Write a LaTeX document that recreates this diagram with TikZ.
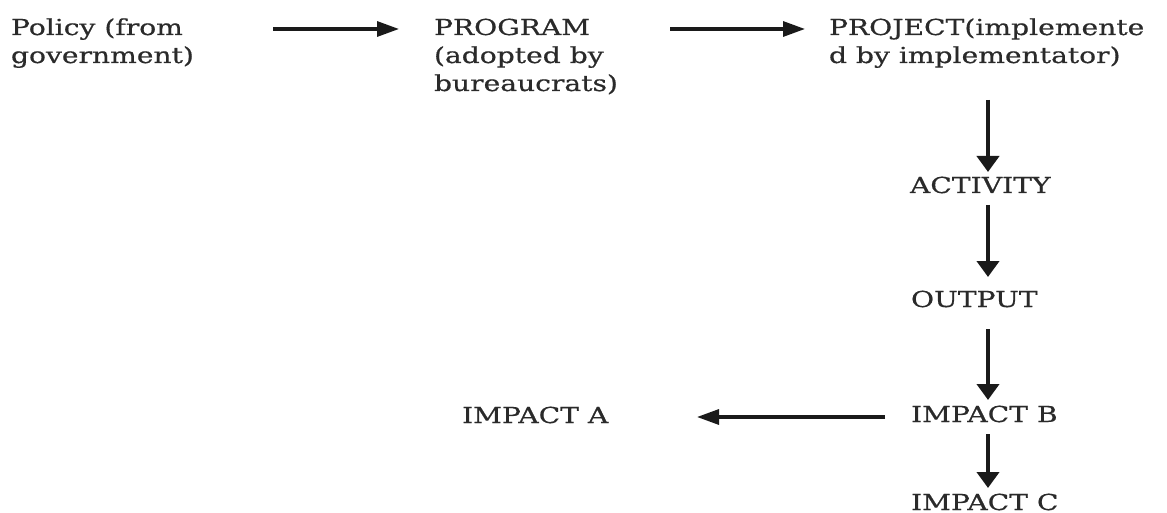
\documentclass[tikz,border=0pt]{standalone}
\usepackage{fontspec}
\setmainfont{DejaVu Serif}[FakeStretch=1.28,FakeBold=0.6]
\usetikzlibrary{arrows.meta}
\definecolor{txt}{HTML}{2A2A2A}
\definecolor{arr}{HTML}{1A1A1A}
\tikzset{
  lbl/.style={inner sep=0pt, outer sep=0pt, align=left, text=txt,
    font=\fontsize{22}{28}\selectfont},
  harrow/.style={draw=arr, line width=3.2pt, -{Triangle[length=22pt,width=15pt]}},
  varrow/.style={draw=arr, line width=4pt, -{Triangle[length=16pt,width=22pt]}}
}
\begin{document}
\begin{tikzpicture}[x=1pt,y=1pt]
\useasboundingbox (0,0) rectangle (1167,-513);
% anchor=base west refers to the baseline of the last line
\node[lbl, anchor=base west] (pol) at (11,-63) {Policy (from\\government)};
\node[lbl, anchor=base west] (prog) at (434,-91) {PROGRAM\\(adopted by\\bureaucrats)};
\node[lbl, anchor=base west] (proj) at (829,-63) {PROJECT(implemente\\d by implementator)};
\node[lbl, anchor=base west] (act) at (910,-193) {ACTIVITY};
\node[lbl, anchor=base west] (out) at (911,-307) {OUTPUT};
\node[lbl, anchor=base west] (impb) at (911,-422) {IMPACT B};
\node[lbl, anchor=base west] (impa) at (462,-423) {IMPACT A};
\node[lbl, anchor=base west] (impc) at (911,-510) {IMPACT C};
\draw[harrow] ([xshift=262pt,yshift=34pt]pol.base west) -- ([xshift=-35pt,yshift=62pt]prog.base west);
\draw[harrow] ([xshift=236pt,yshift=62pt]prog.base west) -- ([xshift=-24pt,yshift=34pt]proj.base west);
\draw[varrow] ([xshift=159pt,yshift=-37pt]proj.base west) -- ([xshift=78pt,yshift=21pt]act.base west);
\draw[varrow] ([xshift=78pt,yshift=-12pt]act.base west) -- ([xshift=77pt,yshift=30pt]out.base west);
\draw[varrow] ([xshift=77pt,yshift=-22pt]out.base west) -- ([xshift=77pt,yshift=22pt]impb.base west);
\draw[varrow] ([xshift=77pt,yshift=-12pt]impb.base west) -- ([xshift=77pt,yshift=22pt]impc.base west);
\draw[harrow] ([xshift=-26pt,yshift=5pt]impb.base west) -- ([xshift=235pt,yshift=6pt]impa.base west);
\end{tikzpicture}
\end{document}
